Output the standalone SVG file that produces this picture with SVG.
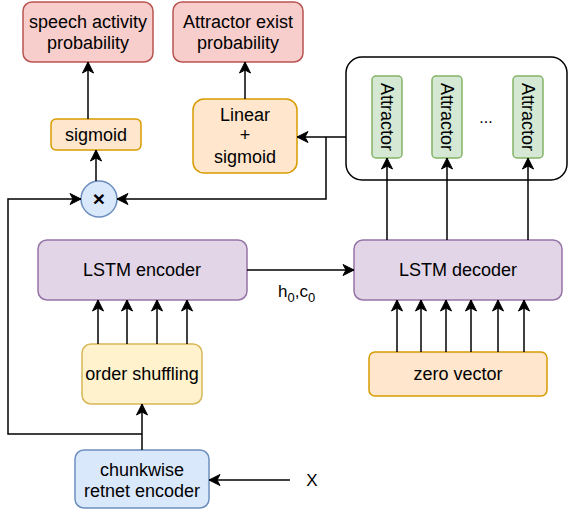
<svg xmlns="http://www.w3.org/2000/svg" width="568" height="509" viewBox="0 0 568 509">
  <defs>
    <marker id="arrow" markerUnits="userSpaceOnUse" markerWidth="14" markerHeight="12" viewBox="-12 -6 14 12" refX="0" refY="0" orient="auto">
      <path d="M0,0 L-11,-5.5 L-8,0 L-11,5.5 Z" fill="#000" stroke="#000" stroke-width="1" stroke-linejoin="miter"/>
    </marker>
    <style>
      text { font-family: "Liberation Sans", Arial, Helvetica, sans-serif; font-size: 18px; fill: #000; text-anchor: middle; }
      .red { fill: #f8cecc; stroke: #b85450; stroke-width: 1.5; }
      .orange { fill: #ffe6cc; stroke: #d79b00; stroke-width: 1.5; }
      .yellow { fill: #fff2cc; stroke: #d6b656; stroke-width: 1.5; }
      .blue { fill: #dae8fc; stroke: #6c8ebf; stroke-width: 1.5; }
      .green { fill: #d5e8d4; stroke: #82b366; stroke-width: 1.5; }
      .purple { fill: #e1d5e7; stroke: #9673a6; stroke-width: 1.5; }
      .edge { fill: none; stroke: #000; stroke-width: 1.5; }
      .arr { marker-end: url(#arrow); }
    </style>
  </defs>
  <rect width="568" height="509" fill="#fff"/>

  <g id="speech-prob">
    <rect class="red" x="23" y="2" width="130" height="60" rx="9"/>
    <text x="88" y="28">speech activity</text>
    <text x="88" y="49">probability</text>
  </g>

  <g id="attractor-exist-prob">
    <rect class="red" x="173" y="2" width="130" height="60" rx="9"/>
    <text x="238" y="28">Attractor exist</text>
    <text x="238" y="49">probability</text>
  </g>

  <g id="sigmoid">
    <rect class="orange" x="51" y="119" width="90" height="31" rx="5"/>
    <text x="96" y="141">sigmoid</text>
  </g>

  <g id="linear-sigmoid">
    <rect class="orange" x="193" y="99" width="104" height="74" rx="11"/>
    <text x="245" y="121">Linear</text>
    <text x="245" y="141">+</text>
    <text x="245" y="163">sigmoid</text>
  </g>

  <g id="multiply">
    <circle class="blue" cx="99" cy="199" r="18"/>
    <text x="99" y="206" style="font-size:21px;font-weight:bold">×</text>
  </g>

  <g id="attractors">
    <rect x="346" y="57" width="221" height="123" rx="16" fill="#fff" stroke="#000" stroke-width="1.5"/>
    <g id="attractor-1">
      <rect class="green" x="372" y="76" width="30" height="82" rx="4"/>
      <text transform="translate(387,117) rotate(90)" y="6.5">Attractor</text>
    </g>
    <g id="attractor-2">
      <rect class="green" x="432" y="76" width="30" height="82" rx="4"/>
      <text transform="translate(447,117) rotate(90)" y="6.5">Attractor</text>
    </g>
    <text x="486" y="123" style="font-size:16px">...</text>
    <g id="attractor-n">
      <rect class="green" x="513" y="76" width="30" height="82" rx="4"/>
      <text transform="translate(528,117) rotate(90)" y="6.5">Attractor</text>
    </g>
  </g>

  <g id="lstm-encoder">
    <rect class="purple" x="38" y="240" width="209" height="60" rx="9"/>
    <text x="142" y="276">LSTM encoder</text>
  </g>

  <g id="lstm-decoder">
    <rect class="purple" x="354" y="240" width="208" height="60" rx="9"/>
    <text x="458" y="276">LSTM decoder</text>
  </g>

  <g id="order-shuffling">
    <rect class="yellow" x="82" y="344" width="120" height="60" rx="9"/>
    <text x="142" y="380">order shuffling</text>
  </g>

  <g id="zero-vector">
    <rect class="orange" x="369" y="352" width="178" height="44" rx="6"/>
    <text x="458" y="380">zero vector</text>
  </g>

  <g id="chunkwise-encoder">
    <rect class="blue" x="75" y="450" width="134" height="58" rx="9"/>
    <text x="142" y="476">chunkwise</text>
    <text x="142" y="497">retnet encoder</text>
  </g>

  <!-- connectors -->
  <g id="connectors">
    <path class="edge arr" d="M88,119 V62"/>
    <path class="edge arr" d="M96,181 V150"/>
    <path class="edge arr" d="M245,99 V62"/>
    <path class="edge arr" d="M346,137 H297"/>
    <path class="edge arr" d="M326,137 V199 H117"/>
    <path class="edge arr" d="M142,434 H8 V199 H81"/>
    <path class="edge arr" d="M142,450 V404"/>
    <path class="edge arr" d="M98,344 V300"/>
    <path class="edge arr" d="M127,344 V300"/>
    <path class="edge arr" d="M157,344 V300"/>
    <path class="edge arr" d="M187,344 V300"/>
    <path class="edge arr" d="M290,480 H209"/>
    <path class="edge arr" d="M247,270 H354"/>
    <path class="edge arr" d="M397,352 V300"/>
    <path class="edge arr" d="M421,352 V300"/>
    <path class="edge arr" d="M446,352 V300"/>
    <path class="edge arr" d="M471,352 V300"/>
    <path class="edge arr" d="M498,352 V300"/>
    <path class="edge arr" d="M524,352 V300"/>
    <path class="edge arr" d="M387,240 V158"/>
    <path class="edge arr" d="M447,240 V158"/>
    <path class="edge arr" d="M528,240 V158"/>
    <text x="278" y="297" style="text-anchor:start;font-size:17px">h<tspan dy="5" font-size="13">0</tspan><tspan dy="-5">,c</tspan><tspan dy="5" font-size="13">0</tspan></text>
    <text x="312" y="486" style="font-size:17px">X</text>
  </g>
</svg>
